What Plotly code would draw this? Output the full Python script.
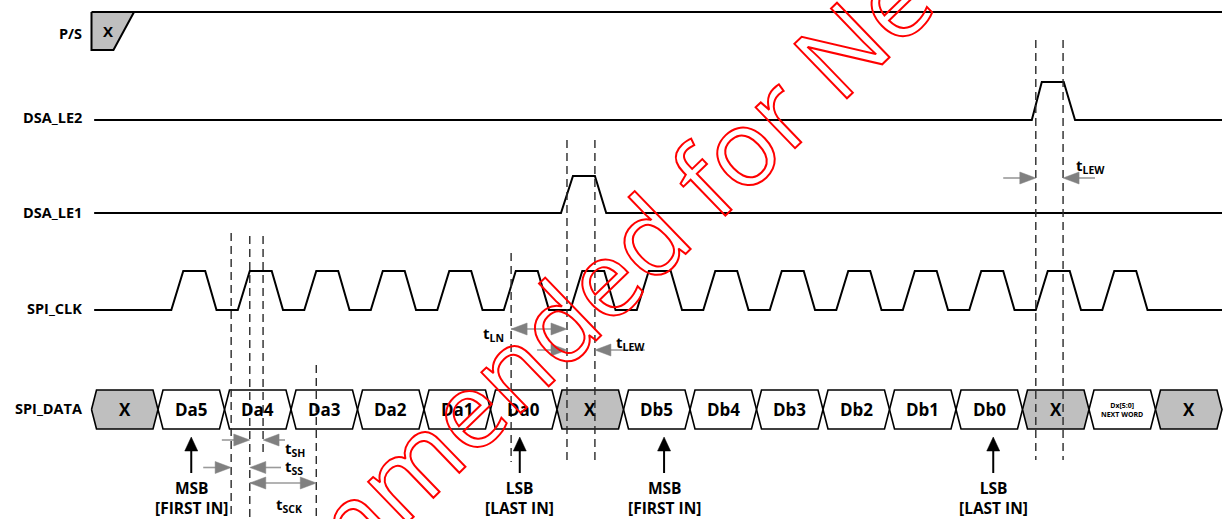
import plotly.graph_objects as go

# ---------------- data ----------------
signal_names = ["P/S", "DSA_LE2", "DSA_LE1", "SPI_CLK", "SPI_DATA"]

# serial data words, one per bit period
data_words = ["X", "Da5", "Da4", "Da3", "Da2", "Da1", "Da0", "X",
              "Db5", "Db4", "Db3", "Db2", "Db1", "Db0", "X",
              "Dx[5:0]<br>NEXT WORD", "X"]

# 1 = a clock pulse occurs in that bit period
clk_active = [0, 1, 1, 1, 1, 1, 1, 1, 1, 1, 1, 1, 1, 1, 1, 1, 0]
# clock pulse edges inside a bit period (rise start, high, fall start, low)
clk_edges = [0.20, 0.38, 0.71, 0.88]

# latch-enable pulses (bit-period time units)
le1_edges = [7.06, 7.24, 7.57, 7.74]
le2_edges = [14.14, 14.29, 14.62, 14.79]

# P/S don't-care region: left edge, slanted bottom end, top end
ps_edges = [0.0, 0.33, 0.64]

# timing reference instants (bit-period time units)
timing_marks = [2.10, 2.38, 2.58, 3.38, 6.31, 7.15, 7.57, 14.20, 14.61]

# timing arrows: (from, to, both_heads)
timing_arrows = [
    (1.96, 2.38, False), (2.91, 2.58, False),     # tSH
    (1.68, 2.10, False), (2.85, 2.38, False),     # tSS
    (2.38, 3.38, True),                           # tSCK
    (6.31, 7.15, True), (6.70, 7.15, False),      # tLN
    (8.32, 7.57, False),                          # tLEW (LE1)
    (13.71, 14.20, False), (15.09, 14.61, False), # tLEW (LE2)
]
timing_labels = ["t<sub>SH</sub>", "t<sub>SS</sub>", "t<sub>SCK</sub>",
                 "t<sub>LN</sub>", "t<sub>LEW</sub>", "t<sub>LEW</sub>"]
timing_label_t = [3.06, 3.05, 2.97, 6.04, 8.10, 15.02]

# bit-order markers
order_t = [1.50, 6.44, 8.61, 13.56]
order_labels = ["MSB<br>[FIRST IN]", "LSB<br>[LAST IN]",
                "MSB<br>[FIRST IN]", "LSB<br>[LAST IN]"]

# ---------------- layout constants ----------------
W, H = 1225, 519
PX = 1 / 66.5                 # one pixel in bit-period units
X_LEFT = -91.5 * PX
X_RIGHT = X_LEFT + W * PX
T_START = 0.04
T_END = 17.0

PS_HI, PS_LO = 12, 50
LE2_LO, LE2_HI = 120, 82
LE1_LO, LE1_HI = 213, 176
CLK_LO, CLK_HI = 310, 271
BUS_TOP, BUS_BOT = 390, 429
BUS_MID = (BUS_TOP + BUS_BOT) / 2
XH = 5 * PX                   # half width of a bus transition

label_y = [33, 117, 212, 308, 408]
mark_span = [(233, 519), (236, 519), (236, 453), (365, 519), (253, 462),
             (140, 462), (140, 462), (40, 460), (40, 460)]
arrow_y = [440, 440, 467.5, 467.5, 483, 329, 350, 350, 178, 178]
timing_label_y = [449, 467, 505, 334, 343, 166]

FONT = "Open Sans"
ARROW_GREY = "#808080"
CELL_GREY = "#bfbfbf"
HEAD_LEN = 16 * PX
HEAD_HW = 6

fig = go.Figure()

def line(xs, ys, width=2, color="black", dash=None):
    fig.add_trace(go.Scatter(x=xs, y=ys, mode="lines", hoverinfo="skip",
                             line=dict(color=color, width=width, dash=dash),
                             showlegend=False))

def polys(px, py, fill, lw=1.6, lc="black"):
    fig.add_trace(go.Scatter(x=px, y=py, mode="lines", fill="toself",
                             fillcolor=fill, hoverinfo="skip",
                             line=dict(color=lc, width=lw), showlegend=False))

# ---- P/S ----
polys([ps_edges[0], ps_edges[2], ps_edges[1], ps_edges[0], ps_edges[0]],
      [PS_HI, PS_HI, PS_LO, PS_LO, PS_HI], CELL_GREY, lw=2)
line([ps_edges[2], T_END], [PS_HI, PS_HI])

# ---- latch enables ----
for edges, lo, hi in [(le2_edges, LE2_LO, LE2_HI), (le1_edges, LE1_LO, LE1_HI)]:
    line([T_START, edges[0], edges[1], edges[2], edges[3], T_END],
         [lo, lo, hi, hi, lo, lo])

# ---- clock ----
cx, cy = [T_START], [CLK_LO]
for k, on in enumerate(clk_active):
    if on:
        cx += [k + e for e in clk_edges]
        cy += [CLK_LO, CLK_HI, CLK_HI, CLK_LO]
cx.append(T_END)
cy.append(CLK_LO)
line(cx, cy)

# ---- data bus cells ----
gx, gy, wx, wy = [], [], [], []
for k, word in enumerate(data_words):
    xs = [k, k + XH, k + 1 - XH, k + 1, k + 1 - XH, k + XH, k, None]
    ys = [BUS_MID, BUS_TOP, BUS_TOP, BUS_MID, BUS_BOT, BUS_BOT, BUS_MID, None]
    if word == "X":
        gx += xs; gy += ys
    else:
        wx += xs; wy += ys
polys(wx, wy, "white")
polys(gx, gy, CELL_GREY)

# ---- timing reference lines ----
for t, (y0, y1) in zip(timing_marks, mark_span):
    line([t, t], [y0, y1], width=1.4, color="#2a2a2a", dash="8px,5px")

# ---- timing arrows ----
hx, hy = [], []
def head(tip, y, direction):
    base = tip - direction * HEAD_LEN
    hx.extend([tip, base, base, tip, None])
    hy.extend([y, y - HEAD_HW, y + HEAD_HW, y, None])

for (a, b, both), y in zip(timing_arrows, arrow_y):
    d = 1 if b > a else -1
    line([a, b - d * HEAD_LEN * 0.5], [y, y], width=1.6, color="#9a9a9a")
    head(b, y, d)
    if both:
        head(a, y, -d)
polys(hx, hy, ARROW_GREY, lw=0.5, lc=ARROW_GREY)

# ---- MSB / LSB markers ----
bx, by = [], []
for t in order_t:
    line([t, t], [473, 448], width=2)
    bx += [t, t - 6.5 * PX, t + 6.5 * PX, t, None]
    by += [437, 451, 451, 437, None]
polys(bx, by, "black", lw=0.5)

# ---- text ----
annotations = []
for name, y in zip(signal_names, label_y):
    annotations.append(dict(x=-0.112, y=y, text=name, xanchor="right",
                            showarrow=False,
                            font=dict(family=FONT, size=14.5, weight=700, color="black")))
annotations.append(dict(x=0.25, y=31, text="X", showarrow=False,
                        font=dict(family=FONT, size=15, weight=700, color="black")))
for k, word in enumerate(data_words):
    small = "<br>" in word
    annotations.append(dict(x=k + 0.5, y=BUS_MID, text=word, showarrow=False,
                            font=dict(family=FONT, size=7 if small else 17,
                                      weight=700, color="black")))
for txt, t, y in zip(timing_labels, timing_label_t, timing_label_y):
    annotations.append(dict(x=t, y=y, text=txt, showarrow=False,
                            font=dict(family=FONT, size=15, weight=700, color="black")))
for t, txt in zip(order_t, order_labels):
    annotations.append(dict(x=t, y=498, text=txt, showarrow=False,
                            font=dict(family=FONT, size=15.5, weight=700, color="black")))

# watermark
annotations.append(dict(x=8.0, y=257, text="Not Recommended for New Designs",
                        showarrow=False, textangle=-44,
                        font=dict(family=FONT, size=106, color="red")))

fig.update_layout(
    width=W, height=H,
    margin=dict(l=0, r=0, t=0, b=0),
    paper_bgcolor="white", plot_bgcolor="white",
    xaxis=dict(range=[X_LEFT, X_RIGHT], visible=False, fixedrange=True),
    yaxis=dict(range=[H, 0], visible=False, fixedrange=True),
    annotations=annotations,
    showlegend=False,
)

outline_js = """
var gd = document.getElementById('{plot_id}');
function outlineMark() {
  gd.querySelectorAll('.annotation-text').forEach(function (el) {
    if (el.textContent.indexOf('Recommended') >= 0) {
      el.style.fill = 'none';
      el.style.stroke = '#ff0000';
      el.style.strokeWidth = '2px';
    }
  });
}
outlineMark();
gd.on('plotly_afterplot', outlineMark);
"""

fig.write_html("out.html", post_script=outline_js, config={"displayModeBar": False})
